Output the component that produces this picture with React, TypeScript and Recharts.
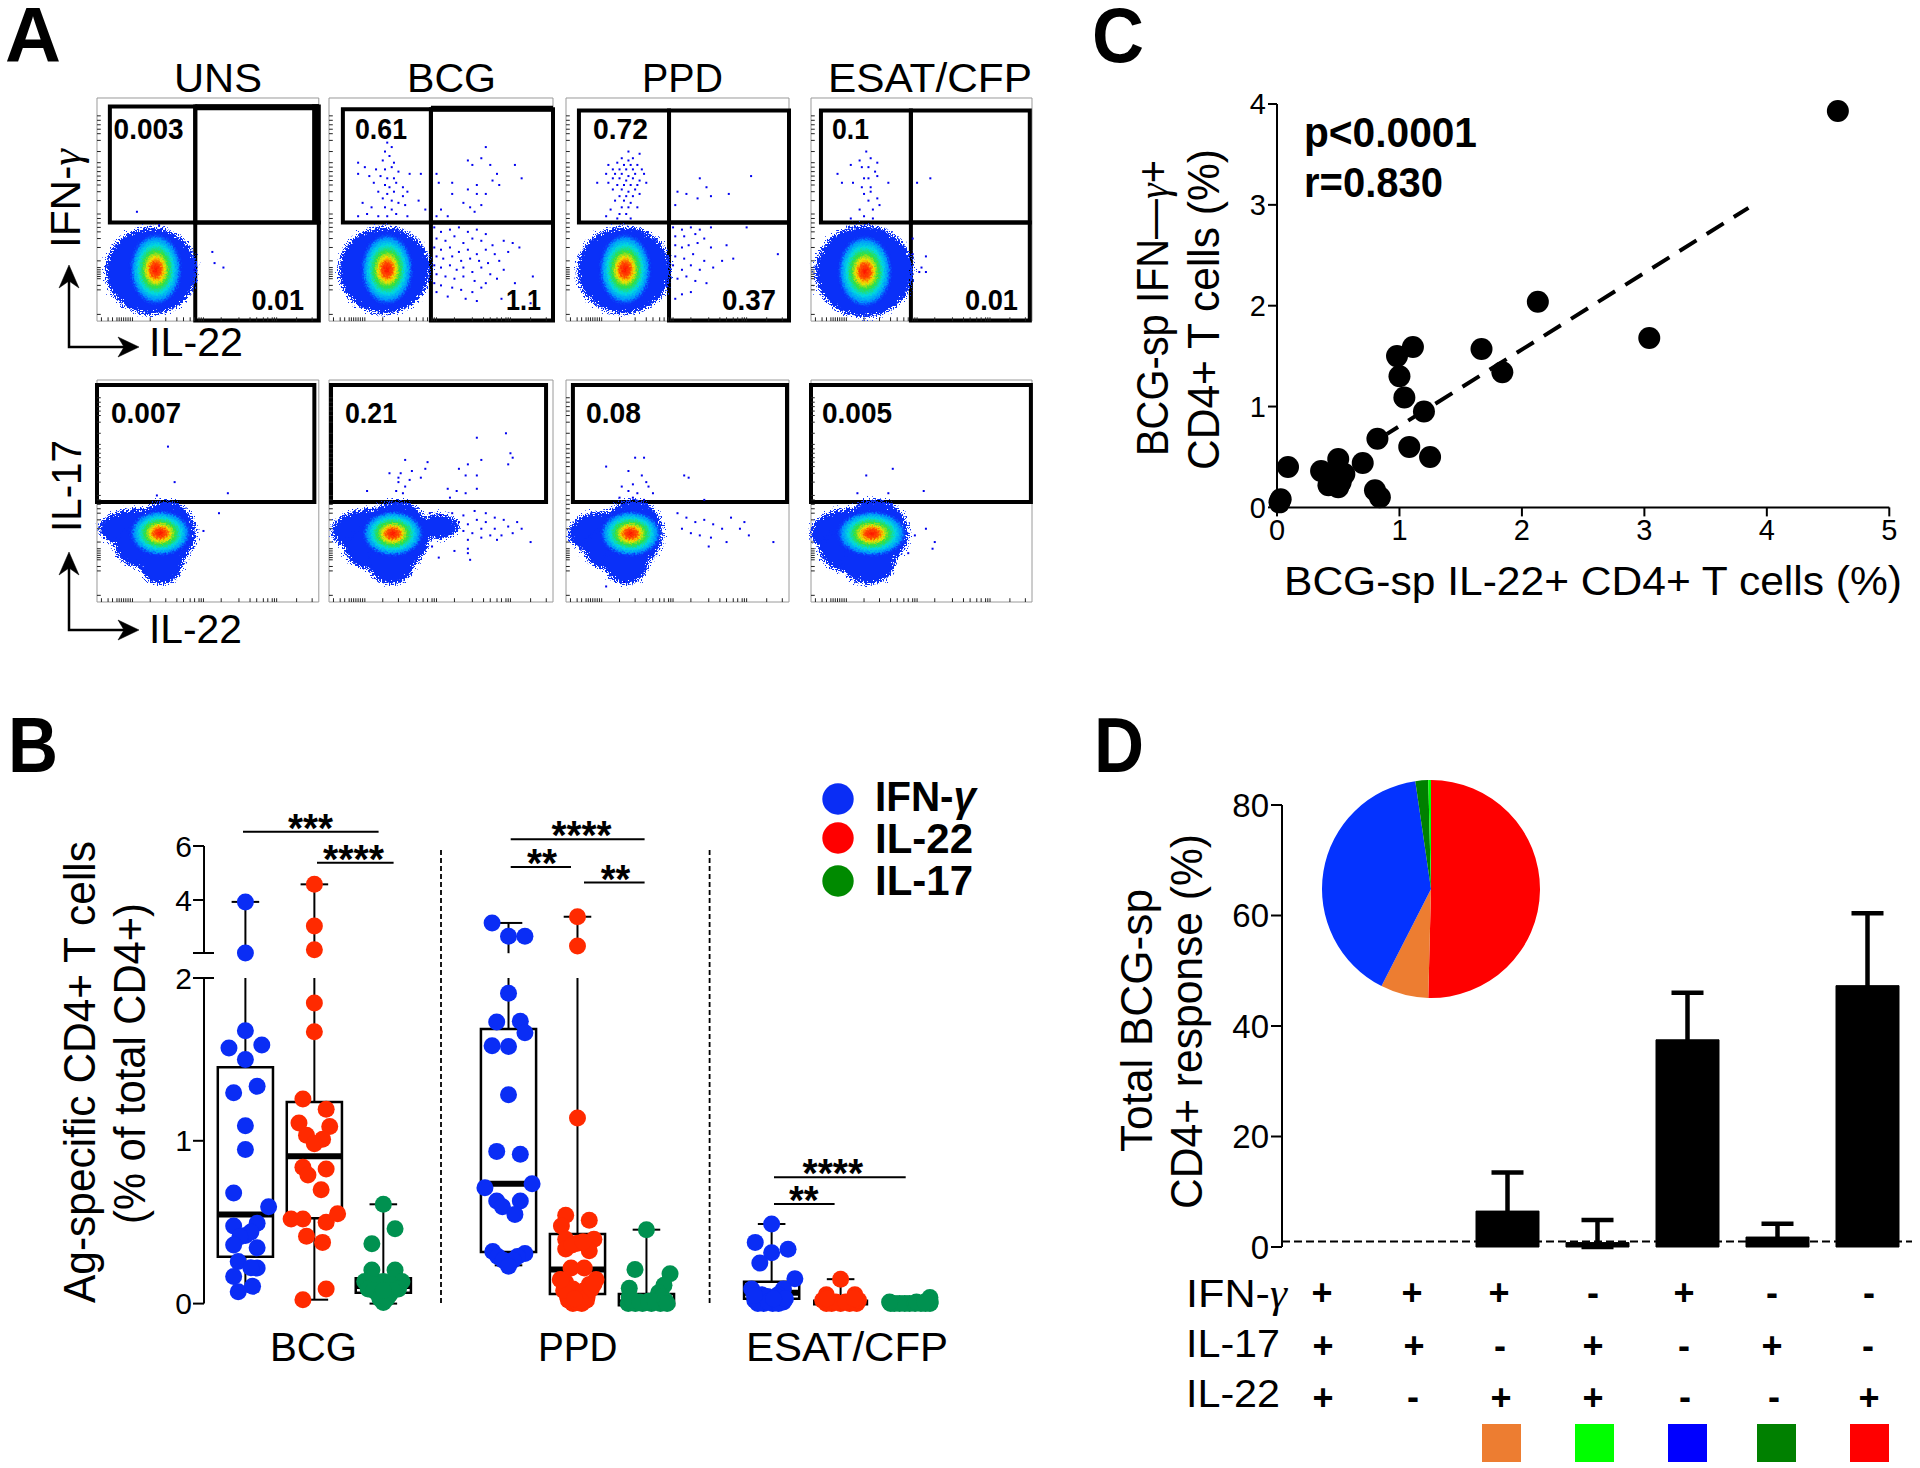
import React from 'react';
import { ScatterChart, Scatter, XAxis, YAxis, ReferenceArea, ReferenceLine, BarChart, Bar, ErrorBar, PieChart, Pie, Cell } from 'recharts';

const FONT = "'Liberation Sans', Arial, sans-serif";
type Pt = number[];

/* ---------- Panel A data (percent of each flow plot's axes) ---------- */
const flowTicksX = [2, 5, 7, 9, 10, 11, 12, 13, 14, 15, 16, 24, 31, 36, 39, 42, 44, 46, 47, 48, 56, 64, 69, 72, 75, 77, 79, 80, 81, 90, 97];
const flowTicksY = [3, 14, 16, 19, 20, 21, 22, 23, 24, 27, 33, 37, 40, 42, 44, 46, 48, 54, 58, 61, 63, 65, 67, 69, 71, 76, 81, 84, 86, 88, 90, 92];

const r1Frames = [[96.7, 221.8], [329, 224], [566, 223], [811, 221]];
const r2Frames = [[96.7, 221.8], [329, 224], [566, 223], [811, 221]];

const r1Gates = [
  [[5.8, 44.3, 44.2, 96.2], [44.3, 100, 44.2, 96.2], [44.3, 100, 0.3, 44.2]],
  [[6.2, 45.5, 44.2, 95], [45.5, 100, 44.2, 95], [45.5, 100, 0.3, 44.2]],
  [[5.8, 46.2, 44.2, 94.4], [46.2, 100, 44.2, 94.4], [46.2, 100, 0.3, 44.2]],
  [[4.5, 45.2, 44.2, 94.4], [45.2, 99, 44.2, 94.4], [45.2, 99, 0.3, 44.2]],
];
const r1Bands = [
  [[44.3, 100, 94.5, 97.2], [97, 100, 44.2, 97.2]],
  [[45.5, 100, 93.8, 96.5]],
  [],
  [],
];
const r2Gates = [[0, 98, 45, 97.7], [0.9, 96.9, 45, 97.7], [3.1, 99.1, 45, 97.7], [0, 99.5, 45, 97.7]];

const r1Outer = [
  [{ x: 24.5, y: 22.5, rx: 20.5, ry: 19.5 }],
  [{ x: 24.8, y: 22.8, rx: 20.5, ry: 19.5 }],
  [{ x: 26, y: 22.8, rx: 21, ry: 19.5 }],
  [{ x: 24, y: 22.3, rx: 22, ry: 20.5 }],
];
const r1Heat = [
  [{ x: 26.5, y: 23.2, rx: 12, ry: 16.5 }],
  [{ x: 25.9, y: 23.2, rx: 12, ry: 16.5 }],
  [{ x: 26.5, y: 23.2, rx: 12, ry: 16.5 }],
  [{ x: 24.4, y: 22.3, rx: 12.5, ry: 16.5 }],
];
const r2Outer = [
  [{ x: 20, y: 33, rx: 19, ry: 9 }, { x: 31, y: 31, rx: 13.5, ry: 14.5 }, { x: 23, y: 25, rx: 15, ry: 10 }, { x: 29, y: 18, rx: 10, ry: 10 }],
  [{ x: 20, y: 32, rx: 19, ry: 10 }, { x: 30, y: 30, rx: 15, ry: 15.5 }, { x: 22, y: 24, rx: 15, ry: 10 }, { x: 28, y: 18, rx: 10.5, ry: 10 }, { x: 49, y: 34, rx: 9, ry: 5.5 }],
  [{ x: 19, y: 31, rx: 18, ry: 10 }, { x: 30, y: 31, rx: 13.5, ry: 15 }, { x: 22, y: 24, rx: 14, ry: 10 }, { x: 27, y: 18, rx: 10, ry: 10 }],
  [{ x: 18, y: 31, rx: 18, ry: 11 }, { x: 29, y: 31, rx: 15, ry: 15 }, { x: 20, y: 23, rx: 16, ry: 10 }, { x: 26, y: 18, rx: 12, ry: 10 }],
];
const r2Heat = [
  [{ x: 28.5, y: 31, rx: 14, ry: 10.5 }],
  [{ x: 28.5, y: 30.8, rx: 14, ry: 10.5 }],
  [{ x: 29, y: 30.8, rx: 14, ry: 10.5 }],
  [{ x: 27.5, y: 30.8, rx: 16, ry: 10.5 }],
];

const r1Dots: Pt[][] = [
  [[18, 49], [28, 43], [52, 31], [57, 24], [53, 26], [44, 23]],
  [[26, 80], [28, 78], [25, 76], [27, 74], [13, 71], [16, 69], [24, 72], [29, 71], [21, 68], [25, 68], [28, 69], [31, 67], [13, 66], [18, 65], [23, 65], [26, 64], [29, 64], [36, 66], [41, 66], [20, 62], [25, 61], [27, 60], [30, 62], [33, 60], [22, 58], [26, 57], [29, 58], [33, 56], [35, 58], [24, 55], [28, 54], [31, 53], [15, 53], [19, 51], [25, 51], [28, 50], [34, 52], [40, 54], [43, 50], [13, 47], [17, 48], [22, 47], [26, 47], [30, 48], [35, 47],
    [70, 78], [62, 72], [64, 70], [68, 73], [48, 66], [72, 70], [83, 70], [86, 64], [75, 66], [49, 62], [55, 62], [66, 61], [73, 63], [76, 61], [55, 57], [62, 59], [66, 57], [70, 57], [60, 53], [63, 51], [65, 49], [68, 52], [50, 50], [48, 47], [53, 47],
    [47, 42], [50, 40], [54, 41], [58, 42], [62, 40], [66, 41], [70, 39], [48, 37], [52, 36], [56, 38], [60, 35], [64, 37], [68, 36], [73, 34], [78, 36], [82, 35], [47, 33], [50, 32], [54, 33], [58, 31], [62, 32], [66, 30], [70, 32], [74, 30], [80, 31], [85, 33], [48, 29], [51, 28], [55, 29], [59, 27], [63, 28], [67, 27], [71, 26], [76, 27], [47, 25], [50, 24], [54, 25], [57, 23], [60, 24], [64, 22], [68, 24], [72, 21], [78, 23], [48, 21], [52, 20], [56, 19], [60, 20], [65, 18], [70, 17], [75, 19], [83, 17], [91, 20], [47, 17], [50, 16], [55, 15], [59, 14], [64, 13], [68, 15], [48, 13], [53, 11], [61, 10], [66, 9], [77, 10], [90, 8]],
  [[28, 76], [33, 75], [25, 73], [28, 72], [30, 73], [19, 70], [23, 71], [26, 70], [29, 70], [32, 70], [21, 68], [24, 68], [27, 68], [30, 68], [34, 68], [18, 66], [22, 66], [25, 66], [28, 65], [31, 66], [35, 66], [21, 64], [24, 64], [27, 63], [30, 64], [33, 63], [14, 62], [19, 62], [23, 61], [26, 61], [29, 61], [32, 61], [36, 62], [21, 59], [25, 59], [28, 58], [31, 59], [24, 56], [27, 56], [30, 56], [33, 57], [22, 54], [26, 54], [29, 53], [25, 51], [28, 51], [32, 51], [20, 50], [24, 48], [27, 48], [23, 46], [29, 46], [18, 47],
    [60, 64], [83, 65], [50, 58], [54, 57], [59, 55], [65, 56], [63, 60], [73, 57], [49, 52],
    [48, 42], [52, 41], [56, 42], [60, 41], [65, 42], [81, 42], [49, 38], [53, 38], [58, 39], [62, 37], [49, 34], [52, 33], [55, 34], [59, 35], [65, 33], [72, 34], [95, 30], [49, 29], [53, 28], [57, 30], [62, 27], [70, 27], [75, 28], [48, 25], [52, 23], [56, 25], [60, 23], [66, 24], [50, 19], [54, 20], [58, 18], [63, 17], [52, 12], [56, 13], [49, 10]],
  [[25, 76], [22, 72], [27, 73], [30, 71], [18, 70], [23, 69], [26, 69], [29, 67], [12, 66], [24, 64], [26, 64], [30, 65], [14, 62], [19, 62], [23, 60], [27, 60], [35, 62], [24, 57], [27, 58], [30, 55], [26, 54], [28, 50], [31, 52], [18, 46], [22, 50], [24, 47], [28, 46],
    [48, 62], [54, 64], [46, 37], [52, 29], [50, 24], [52, 22], [49, 22], [46, 30]],
];
const r2Dots: Pt[][] = [
  [[32, 70], [35, 54], [27, 48], [59, 49], [48, 32], [55, 40]],
  [[79, 76], [66, 74], [81, 67], [82, 65], [80, 62], [68, 64], [34, 64], [44, 63], [32, 58], [37, 59], [43, 60], [62, 62], [27, 58], [31, 56], [36, 55], [41, 56], [58, 60], [61, 57], [66, 57], [31, 54], [34, 52], [30, 50], [33, 49], [17, 50], [53, 51], [57, 50], [61, 49], [66, 51], [54, 47],
    [45, 40], [50, 39], [55, 40], [60, 39], [65, 41], [70, 40], [74, 38], [78, 37], [84, 36], [58, 36], [62, 35], [66, 37], [70, 36], [74, 33], [80, 34], [86, 33], [60, 32], [64, 31], [68, 33], [72, 30], [77, 30], [82, 31], [90, 27], [62, 28], [68, 29], [75, 28], [46, 25], [56, 23], [62, 22], [63, 19], [49, 20], [62, 24]],
  [[31, 65], [35, 65], [18, 61], [28, 59], [34, 57], [36, 54], [53, 57], [55, 56], [30, 53], [25, 52], [28, 50], [32, 49], [39, 49], [30, 47], [35, 46], [37, 52], [24, 47], [62, 46],
    [50, 40], [54, 38], [58, 36], [62, 37], [66, 35], [70, 33], [74, 38], [52, 33], [56, 31], [60, 30], [65, 29], [72, 27], [78, 33], [82, 30], [80, 36], [93, 27], [64, 25], [18, 7], [26, 9]],
  [[37, 60], [25, 57], [51, 50], [21, 49], [35, 49], [52, 33], [56, 27], [55, 24], [44, 22], [47, 30]],
];

const labelsR1 = ['0.003', '0.01', '0.61', '1.1', '0.72', '0.37', '0.1', '0.01'];
const labelsR2 = ['0.007', '0.21', '0.08', '0.005'];
const stimNames = ['UNS', 'BCG', 'PPD', 'ESAT/CFP'];

/* ---------- Panel B data ---------- */
const boxCenters = [1, 2, 3, 4.815, 5.815, 6.815, 8.63, 9.63, 10.63];
const boxColors = ['#0a2df5', '#ff2a00', '#009150', '#0a2df5', '#ff2a00', '#009150', '#0a2df5', '#ff2a00', '#009150'];
const q1s = [0.287, 0.524, 0.066, 0.317, 0.059, -0.01, 0.03, 0.004, 0.004];
const q3s = [1.452, 1.239, 0.155, 1.687, 0.428, 0.059, 0.134, 0.006, 0.006];
const meds = [0.548, 0.905, 0.108, 0.736, 0.209, 0.007, 0.066, 0.007, 0.007];
const los = [0.075, 0.024, 0, 0.235, 0, 0, 0, 0, 0];
const his = [3.93, 4.58, 0.61, 3.15, 3.38, 0.454, 0.489, 0.15, 0.038];

const bcgIfn: Pt[] = [[0, 3.93], [0, 2.04], [0, 1.676], [0.238, 1.589], [-0.238, 1.57], [0, 1.5], [0.17, 1.335], [-0.17, 1.295], [0, 1.093], [0, 0.947], [-0.17, 0.679], [0.337, 0.595], [-0.17, 0.477], [0.17, 0.494], [0, 0.418], [0.08, 0.44], [-0.08, 0.41], [-0.17, 0.36], [0.17, 0.343], [-0.104, 0.259], [0.17, 0.219], [0.08, 0.22], [-0.17, 0.167], [0.104, 0.106], [-0.104, 0.073]];
const bcgIl22: Pt[] = [[0, 4.58], [0, 3.04], [0, 2.16], [0, 1.847], [0, 1.67], [-0.166, 1.257], [0.171, 1.194], [-0.223, 1.11], [0.223, 1.088], [-0.114, 1.034], [0.119, 1.01], [0, 0.982], [-0.166, 0.837], [0.171, 0.827], [-0.093, 0.79], [0.098, 0.7], [-0.337, 0.52], [-0.166, 0.52], [0.171, 0.5], [0.337, 0.552], [-0.114, 0.414], [0.119, 0.376], [0.171, 0.089], [-0.166, 0.024]];
const bcgIl17: Pt[] = [[0, 0.61], [0.17, 0.46], [-0.166, 0.367], [-0.166, 0.207], [0.17, 0.207], [-0.166, 0.16], [0.17, 0.16], [-0.27, 0.136], [0.27, 0.136], [0, 0.136], [-0.12, 0.117], [0.11, 0.117], [-0.22, 0.09], [0.22, 0.09], [-0.07, 0.054], [0.09, 0.054], [0, 0.007], [-0.14, 0.08], [0.14, 0.08], [-0.05, 0.03], [0.05, 0.03], [0, 0.08]];
const ppdIfn: Pt[] = [[-0.238, 3.15], [0, 2.66], [0.238, 2.66], [0, 1.906], [-0.171, 1.73], [0.171, 1.734], [0.238, 1.664], [-0.238, 1.584], [0, 1.579], [0, 1.283], [-0.171, 0.935], [0.171, 0.917], [-0.342, 0.712], [0.342, 0.736], [-0.171, 0.63], [0.171, 0.63], [-0.088, 0.595], [0.093, 0.548], [-0.228, 0.32], [0.238, 0.308], [-0.155, 0.289], [0.13, 0.289], [-0.078, 0.266], [0.067, 0.266], [0, 0.23]];
const ppdIl22: Pt[] = [[0, 3.38], [0, 2.3], [0, 1.14], [-0.171, 0.543], [0.171, 0.512], [-0.233, 0.477], [-0.171, 0.395], [0.238, 0.395], [0, 0.371], [0.171, 0.324], [-0.171, 0.336], [-0.093, 0.219], [0.098, 0.219], [-0.249, 0.148], [0.269, 0.148], [-0.171, 0.13], [0.171, 0.117], [-0.067, 0.09], [0.088, 0.078], [-0.145, 0.04], [0.14, 0.04], [-0.067, 0], [0.062, 0], [0, 0.007], [-0.13, 0.02], [0.13, 0.02], [-0.2, 0.08], [0.2, 0.09], [0.04, 0.02], [-0.04, 0.03], [-0.08, 0.36], [0.08, 0.38], [-0.24, 0.145], [0.24, 0.12]];
const ppdIl17: Pt[] = [[0, 0.454], [-0.166, 0.21], [0.342, 0.183], [0.254, 0.113], [-0.249, 0.094], [0.176, 0.066], [-0.249, 0.04], [0.228, 0.04], [-0.264, 0], [-0.161, 0], [-0.057, 0], [0.072, 0], [0.202, 0], [0, 0.007], [-0.2, 0.02], [-0.1, 0.01], [0.03, 0.015], [0.13, 0.01], [0.27, 0.02], [0.3, 0]];
const esatIfn: Pt[] = [[0, 0.489], [-0.238, 0.376], [0.238, 0.334], [0, 0.313], [-0.171, 0.249], [0.337, 0.153], [-0.29, 0.09], [0.171, 0.09], [-0.14, 0.054], [0.093, 0.054], [-0.062, 0.044], [0.067, 0.044], [-0.244, 0.02], [0.171, 0.01], [-0.114, 0], [0.015, 0], [-0.2, 0], [-0.05, 0.01], [0.1, 0], [0.2, 0.03], [-0.25, 0.05], [0.03, 0.03]];
const esatIl22: Pt[] = [[0, 0.15], [-0.207, 0.054], [0.207, 0.054], [-0.13, 0], [0, 0], [0.13, 0], [-0.207, 0], [0.233, 0], [-0.26, 0.02], [0.26, 0.02], [-0.07, 0.01], [0.07, 0.01], [-0.2, 0.03], [0.2, 0.03]];
const esatIl17: Pt[] = [[0.295, 0.038], [-0.275, 0], [-0.145, 0], [0, 0], [0.165, 0], [0.295, 0], [-0.22, 0], [-0.07, 0], [0.08, 0], [0.23, 0], [-0.29, 0.01], [0.1, 0.01], [0.3, 0.01], [0.22, 0.01]];
const pointSets = [bcgIfn, bcgIl22, bcgIl17, ppdIfn, ppdIl22, ppdIl17, esatIfn, esatIl22, esatIl17];

const groupNames = ['BCG', 'PPD', 'ESAT/CFP'];
const legendNames = ['IL-22', 'IL-17'];
const sigLines = [
  [243, 378.6, 831.7], [317, 393.6, 862.7], [510.7, 644.6, 839.3], [510.7, 571, 866.9], [584, 644.6, 882.6], [774, 905.7, 1177.2], [774, 834.6, 1204],
];
const sigStars = ['***', '****', '****', '**', '**', '****', '**'];
const sigStarX = [288, 323, 551.4, 527, 600.7, 802.5, 789];
const sigStarW = [45, 61, 60, 30, 29.5, 60.5, 29.6];

/* ---------- Panel C data ---------- */
const il22Pct = [0.03, 0.02, 0.09, 0.36, 0.42, 0.5, 0.46, 0.5, 0.52, 0.55, 0.7, 0.8, 0.84, 0.82, 0.98, 1.0, 1.04, 1.11, 1.08, 1.2, 1.25, 1.67, 1.84, 2.13, 3.04, 4.58];
const ifnPct = [0.08, 0.05, 0.4, 0.36, 0.22, 0.48, 0.3, 0.2, 0.25, 0.33, 0.44, 0.17, 0.1, 0.68, 1.5, 1.3, 1.09, 1.59, 0.6, 0.95, 0.5, 1.57, 1.34, 2.04, 1.68, 3.93];
const fitX = [0.4, 3.85];
const fitY = [0.35, 2.97];

/* ---------- Panel D data ---------- */
const comboIds = ['IFN+17+22+', 'IFN+17+', 'IFN+22+', '17+22+', 'IFN+', '17+', '22+'];
const comboMean = [0, 0, 6.5, 0.8, 37.5, 1.8, 47.3];
const comboTop = [0, 0, 13.5, 4.9, 46, 4.2, 60.4];
const rowIfn = ['+', '+', '+', '-', '+', '-', '-'];
const rowIl17 = ['+', '+', '-', '+', '-', '+', '-'];
const rowIl22 = ['+', '-', '+', '+', '-', '-', '+'];
const swatches = ['#ed7d31', '#00ff00', '#0000ff', '#008000', '#ff0000'];
const pieShares = [50.4, 7.1, 40.2, 1.9, 0.4];
const pieColors = ['#ff0000', '#ed7d31', '#0433ff', '#008000', '#00ff00'];

/* ---------- helpers ---------- */
const toPts = (a: Pt[]) => a.map(([x, y]) => ({ x, y }));
const PX = 2.22;
const StrayDot = (p: any) => <rect x={p.cx - 1} y={p.cy - 1} width={2} height={2} fill="#0000f0" />;
const OuterBlob = (p: any) => <ellipse cx={p.cx} cy={p.cy} rx={p.payload.rx * PX} ry={p.payload.ry * PX} fill="#0a30f8" filter="url(#rough)" />;
const HeatBlob = (p: any) => <ellipse cx={p.cx} cy={p.cy} rx={p.payload.rx * PX} ry={p.payload.ry * PX} fill="url(#heat)" filter="url(#rough2)" />;

const T = ({ x, y, w, s = 40, b, rot, a, fill = '#000', children }: any) => (
  <text x={x} y={y} fontSize={s} fontWeight={b ? 700 : 400} fill={fill} textAnchor={a || 'start'}
    textLength={w} lengthAdjust={w ? 'spacingAndGlyphs' : undefined}
    transform={rot ? `rotate(-90 ${x} ${y})` : undefined}>{children}</text>
);
const Gamma = () => <tspan fontFamily="'Liberation Serif', serif" fontStyle="italic">γ</tspan>;

const at = (left: number, top: number, width: number, height: number): React.CSSProperties => ({ position: 'absolute', left, top, width, height });

const Flow = ({ frame, bottom, h, outer, heat, dots, gates, bands }: any) => {
  const m = 12;
  const [l, w] = frame;
  return (
    <div style={at(l - m, bottom - h - m, w + 2 * m, h + 2 * m)}>
      <ScatterChart width={w + 2 * m} height={h + 2 * m} margin={{ left: m, right: m, top: m, bottom: m }}>
        <XAxis type="number" dataKey="x" domain={[0, 100]} height={0} tick={false} tickLine={false} axisLine={false} />
        <YAxis type="number" dataKey="y" domain={[0, 100]} width={0} tick={false} tickLine={false} axisLine={false} />
        <ReferenceArea x1={0} x2={100} y1={0} y2={100} fill="none" stroke="#9a9a9a" strokeWidth={1} ifOverflow="visible" />
        <Scatter data={outer} shape={OuterBlob} isAnimationActive={false} />
        <Scatter data={heat} shape={HeatBlob} isAnimationActive={false} />
        <Scatter data={toPts(dots)} shape={StrayDot} isAnimationActive={false} />
        {flowTicksX.map((t) => (
          <ReferenceLine key={`tx${t}`} segment={[{ x: t, y: 0 }, { x: t, y: 1.7 }]} stroke="#222" strokeWidth={1} ifOverflow="visible" />
        ))}
        {flowTicksY.map((t) => (
          <ReferenceLine key={`ty${t}`} segment={[{ x: 0, y: t }, { x: 1.7, y: t }]} stroke="#222" strokeWidth={1} ifOverflow="visible" />
        ))}
        {gates.map((g: number[], i: number) => (
          <ReferenceArea key={i} x1={g[0]} x2={g[1]} y1={g[2]} y2={g[3]} fill="none" stroke="#000" strokeWidth={4} ifOverflow="visible" />
        ))}
        {bands.map((g: number[], i: number) => (
          <ReferenceArea key={'b' + i} x1={g[0]} x2={g[1]} y1={g[2]} y2={g[3]} fill="#000" fillOpacity={1} stroke="none" ifOverflow="visible" />
        ))}
      </ScatterChart>
    </div>
  );
};

const CAP = 0.2;
const HALF = 0.4;
const boxRange = boxCenters.map((_, i) => i);
const line = (key: string, x1: number, y1: number, x2: number, y2: number, sw = 2) => (
  <ReferenceLine key={key} segment={[{ x: x1, y: y1 }, { x: x2, y: y2 }]} stroke="#000" strokeWidth={sw} ifOverflow="visible" />
);

const xDomB = [0.4, 11.245];
const dotShape = (fill: string) => (p: any) => <circle cx={p.cx} cy={p.cy} r={8.5} fill={fill} />;

const BPanel = () => {
  const W = 748, ml = 50, mr = 20;
  return (
    <>
      {/* upper broken-axis segment */}
      <div style={at(204 - ml, 845.8 - 20, W + ml + mr, 107.2 + 40)}>
        <ScatterChart width={W + ml + mr} height={107.2 + 40} margin={{ left: 0, right: mr, top: 20, bottom: 20 }}>
          <XAxis hide type="number" dataKey="x" domain={xDomB} height={0} />
          <YAxis type="number" dataKey="y" domain={[2.03, 6]} ticks={[4, 6]} interval={0} width={ml} tickSize={11} tickMargin={1} axisLine={{ stroke: '#000', strokeWidth: 2 }} tickLine={{ stroke: '#000', strokeWidth: 2 }} tick={{ fontSize: 30, fill: '#000', fontFamily: FONT }} />
          {boxRange.map((i) => (
            <Scatter key={i} data={pointSets[i].filter((p) => p[1] > 2).map(([d, y]) => ({ x: boxCenters[i] + d, y }))} shape={dotShape(boxColors[i])} isAnimationActive={false} />
          ))}
          {boxRange.filter((i) => his[i] > 2).flatMap((i) => [
            line(`w${i}`, boxCenters[i], 2.03, boxCenters[i], his[i]),
            line(`c${i}`, boxCenters[i] - CAP, his[i], boxCenters[i] + CAP, his[i]),
          ])}
        </ScatterChart>
      </div>
      {/* lower broken-axis segment */}
      <div style={at(204 - ml, 977.9 - 20, W + ml + mr, 325.6 + 50)}>
        <ScatterChart width={W + ml + mr} height={325.6 + 50} margin={{ left: 0, right: mr, top: 20, bottom: 30 }}>
          <XAxis type="number" dataKey="x" domain={xDomB} height={0} tick={false} tickLine={false} axisLine={{ stroke: '#000', strokeWidth: 2 }} />
          <YAxis type="number" dataKey="y" domain={[0, 2]} ticks={[0, 1, 2]} interval={0} width={ml} tickSize={11} tickMargin={1} axisLine={{ stroke: '#000', strokeWidth: 2 }} tickLine={{ stroke: '#000', strokeWidth: 2 }} tick={{ fontSize: 30, fill: '#000', fontFamily: FONT }} />
          {boxRange.map((i) => (
            <Scatter key={i} data={pointSets[i].filter((p) => p[1] <= 2).map(([d, y]) => ({ x: boxCenters[i] + d, y }))} shape={dotShape(boxColors[i])} isAnimationActive={false} />
          ))}
          {boxRange.flatMap((i) => {
            const c = boxCenters[i];
            const els = [
              line(`wh${i}`, c, q3s[i], c, Math.min(his[i], 2)),
              line(`wl${i}`, c, los[i], c, q1s[i]),
              line(`cl${i}`, c - CAP, los[i], c + CAP, los[i]),
              line(`m${i}`, c - HALF, meds[i], c + HALF, meds[i], 6),
            ];
            if (his[i] <= 2) els.push(line(`ch${i}`, c - CAP, his[i], c + CAP, his[i]));
            return els;
          })}
          {boxRange.slice(0, 7).map((i) => (
            <ReferenceArea key={`b${i}`} x1={boxCenters[i] - HALF} x2={boxCenters[i] + HALF} y1={q1s[i]} y2={q3s[i]} fill="none" stroke="#000" strokeWidth={2.5} ifOverflow="visible" />
          ))}
        </ScatterChart>
      </div>
    </>
  );
};

const CPanel = () => {
  const ml = 60, mb = 50, mt = 20, mr = 25, w = 612.3, h = 403.4;
  const pts = il22Pct.map((x, i) => ({ x, y: ifnPct[i] }));
  return (
    <div style={at(1276.7 - ml, 103.6 - mt, w + ml + mr, h + mt + mb)}>
      <ScatterChart width={w + ml + mr} height={h + mt + mb} margin={{ left: 0, right: mr, top: mt, bottom: 0 }}>
        <XAxis type="number" dataKey="x" domain={[0, 5]} ticks={[0, 1, 2, 3, 4, 5]} interval={0} height={mb} tickSize={9} tickMargin={3} axisLine={{ stroke: '#000', strokeWidth: 2 }} tickLine={{ stroke: '#000', strokeWidth: 2 }} tick={{ fontSize: 29, fill: '#000', fontFamily: FONT }} />
        <YAxis type="number" dataKey="y" domain={[0, 4]} ticks={[0, 1, 2, 3, 4]} interval={0} width={ml} tickSize={9} tickMargin={2} axisLine={{ stroke: '#000', strokeWidth: 2 }} tickLine={{ stroke: '#000', strokeWidth: 2 }} tick={{ fontSize: 29, fill: '#000', fontFamily: FONT }} />
        <Scatter data={pts} shape={(p: any) => <circle cx={p.cx} cy={p.cy} r={11} fill="#000" />} isAnimationActive={false} />
        <ReferenceLine segment={[{ x: 0.85, y: fitY[0] + (0.85 - fitX[0]) * 0.7594 }, { x: fitX[1], y: fitY[1] }]} stroke="#000" strokeWidth={4} strokeDasharray="20 12" ifOverflow="visible" />
        <ReferenceLine segment={[{ x: fitX[0], y: fitY[0] }, { x: 0.9, y: fitY[0] + 0.5 * 0.7594 }]} stroke="#fff" strokeWidth={1.5} strokeDasharray="3 4" ifOverflow="visible" />
      </ScatterChart>
    </div>
  );
};

const DPanel = () => {
  const ml = 60, mt = 20, mb = 30, w = 630, h = 442;
  const data = comboIds.map((id, i) => ({ id, mean: comboMean[i], err: [Math.min(comboMean[i], 1), comboTop[i] - comboMean[i]] }));
  return (
    <div style={at(1281.5 - ml, 805 - mt, w + ml + 8, h + mt + mb)}>
      <BarChart width={w + ml + 8} height={h + mt + mb} data={data} margin={{ left: 0, right: 8, top: mt, bottom: mb }} barCategoryGap={13}>
        <XAxis dataKey="id" height={0} tick={false} tickLine={false} axisLine={{ stroke: '#000', strokeWidth: 2 }} />
        <YAxis type="number" domain={[0, 80]} ticks={[0, 20, 40, 60, 80]} interval={0} width={ml} tickSize={11} tickMargin={2} axisLine={{ stroke: '#000', strokeWidth: 2 }} tickLine={{ stroke: '#000', strokeWidth: 2 }} tick={{ fontSize: 33, fill: '#000', fontFamily: FONT }} />
        <Bar dataKey="mean" fill="#000" stroke="#000" strokeWidth={1} barSize={63} isAnimationActive={false}>
          <ErrorBar dataKey="err" width={16} stroke="#000" strokeWidth={4.5} direction="y" isAnimationActive={false} />
        </Bar>
        <ReferenceLine y={1} stroke="#000" strokeWidth={2} strokeDasharray="8 4" />
      </BarChart>
    </div>
  );
};

const DPie = () => (
  <div style={at(1431 - 120, 889 - 120, 240, 240)}>
    <PieChart width={240} height={240} margin={{ left: 0, right: 0, top: 0, bottom: 0 }}>
      <Pie data={pieShares.map((value, i) => ({ value, name: String(i) }))} dataKey="value" cx={120} cy={120} innerRadius={0} outerRadius={109} startAngle={90} endAngle={-270} stroke="none" isAnimationActive={false}>
        {pieShares.map((_, i) => <Cell key={i} fill={pieColors[i]} />)}
      </Pie>
    </PieChart>
  </div>
);

const Arrow = ({ x, y0, y1, x1 }: any) => (
  <g stroke="#000" strokeWidth={2.5} fill="#000">
    <path d={`M${x} ${y1} L${x} ${y0} L${x1} ${y0}`} fill="none" />
    <path d={`M${x} ${y1 - 6} L${x - 10} ${y1 + 17} L${x} ${y1 + 10} L${x + 10} ${y1 + 17} Z`} strokeWidth={0.5} />
    <path d={`M${x1 + 6} ${y0} L${x1 - 15} ${y0 - 10} L${x1 - 9} ${y0} L${x1 - 15} ${y0 + 10} Z`} strokeWidth={0.5} />
  </g>
);

const rowCols = [
  [1322, 1412, 1499, 1593, 1684, 1772, 1869],
  [1323, 1414, 1500, 1593, 1684, 1772, 1868],
  [1323, 1413, 1501, 1593, 1685, 1774, 1869],
];
const rowYPlus = [1305, 1358, 1410];
const rowYMinus = [1304.5, 1358, 1409];
const swatchX = [1482, 1575, 1668, 1757, 1850];

const numX1 = [113.6, 251.5, 355, 506, 593, 722, 832, 965];
const numW1 = [70, 52.5, 52, 35, 55, 54, 37, 53];
const numY1 = [139, 310, 139, 310, 139, 310, 139, 310];
const numX2 = [111, 345, 586, 822];
const numW2 = [70, 52, 55, 70];
const stimX = [174, 407, 642, 828];
const stimW = [88, 89, 81, 204];
const groupX = [270, 538, 746];
const groupW = [87, 79.5, 202];

const Overlay = () => (
  <svg width={1920} height={1468} style={{ position: 'absolute', left: 0, top: 0, pointerEvents: 'none', fontFamily: FONT }}>
    <T x={5} y={62} s={78} b w={56}>A</T>
    <T x={8} y={772} s={78} b w={50}>B</T>
    <T x={1092} y={62} s={78} b w={52}>C</T>
    <T x={1094} y={772} s={78} b w={50}>D</T>

    {/* panel A */}
    {stimNames.map((n, i) => <T key={n} x={stimX[i]} y={92} s={41} w={stimW[i]}>{n}</T>)}
    {labelsR1.map((n, i) => <T key={i} x={numX1[i]} y={numY1[i]} s={30} b w={numW1[i]}>{n}</T>)}
    {labelsR2.map((n, i) => <T key={i} x={numX2[i]} y={423} s={30} b w={numW2[i]}>{n}</T>)}
    <T x={80} y={248} s={42} rot w={99}>IFN-<Gamma /></T>
    <T x={149} y={356} s={41} w={94}>IL-22</T>
    <T x={81} y={532} s={42} rot w={92}>IL-17</T>
    <T x={149} y={643} s={41} w={93}>IL-22</T>
    <Arrow x={69} y0={347} y1={271} x1={133} />
    <Arrow x={69} y0={630} y1={558} x1={133} />

    {/* panel B */}
    <line x1={193} y1={953} x2={214} y2={953} stroke="#000" strokeWidth={2} />
    <line x1={204} y1={953} x2={204} y2={899} stroke="#000" strokeWidth={2} />
    <line x1={204} y1={978} x2={214} y2={978} stroke="#000" strokeWidth={2} />
    <line x1={441} y1={850} x2={441} y2={1303} stroke="#000" strokeWidth={1.8} strokeDasharray="5 3" />
    <line x1={709.6} y1={850} x2={709.6} y2={1303} stroke="#000" strokeWidth={1.8} strokeDasharray="5 3" />
    {sigLines.map((l, i) => <line key={i} x1={l[0]} x2={l[1]} y1={l[2]} y2={l[2]} stroke="#000" strokeWidth={2} />)}
    {sigStars.map((s, i) => <T key={i} x={sigStarX[i]} y={sigLines[i][2] + 10} s={40} b w={sigStarW[i]}>{s}</T>)}
    <T x={94.6} y={1303} s={44} rot w={462}>Ag-specific CD4+ T cells</T>
    <T x={144.6} y={1224} s={44} rot w={321}>(% of total CD4+)</T>
    {groupNames.map((n, i) => <T key={n} x={groupX[i]} y={1361} s={40} w={groupW[i]}>{n}</T>)}
    <circle cx={838} cy={799} r={15.7} fill="#0a2df5" />
    <circle cx={838} cy={838} r={15.7} fill="#ff0000" />
    <circle cx={838} cy={881} r={15.7} fill="#008a00" />
    <T x={875} y={810.6} s={42} b w={101}>IFN-<tspan fontStyle="italic">γ</tspan></T>
    <T x={875} y={852.7} s={42} b w={98}>{legendNames[0]}</T>
    <T x={875} y={894.8} s={42} b w={98}>{legendNames[1]}</T>

    {/* panel C */}
    <T x={1304} y={146.6} s={43} b w={173}>p&lt;0.0001</T>
    <T x={1304} y={197} s={43} b w={139}>r=0.830</T>
    <T x={1284} y={595} s={40} w={618}>BCG-sp IL-22+ CD4+ T cells (%)</T>
    <T x={1168} y={456} s={44} rot w={296}>BCG-sp IFN—<Gamma />+</T>
    <T x={1219} y={470} s={44} rot w={321}>CD4+ T cells (%)</T>

    {/* panel D */}
    <T x={1152} y={1152} s={44} rot w={263}>Total BCG-sp</T>
    <T x={1202} y={1209} s={44} rot w={375}>CD4+ response (%)</T>
    <T x={1186} y={1307} s={39} w={101}>IFN-<Gamma /></T>
    <T x={1186} y={1357} s={39} w={94}>IL-17</T>
    <T x={1186} y={1407} s={39} w={94}>IL-22</T>
    {[rowIfn, rowIl17, rowIl22].map((row, r) => row.map((c, i) => (
      <T key={`${r}-${i}`} x={rowCols[r][i]} y={c === '+' ? rowYPlus[r] : rowYMinus[r]} s={36} b a="middle">{c}</T>
    )))}
    {swatches.map((c, i) => <rect key={c} x={swatchX[i]} y={1424} width={39} height={38} fill={c} />)}
  </svg>
);

const Defs = () => (
  <svg width={0} height={0} style={{ position: 'absolute' }}>
    <defs>
      <radialGradient id="heat">
        <stop offset="0%" stopColor="#ff1000" />
        <stop offset="20%" stopColor="#ff5000" />
        <stop offset="33%" stopColor="#f0e000" />
        <stop offset="48%" stopColor="#30e040" />
        <stop offset="66%" stopColor="#00d8e0" />
        <stop offset="84%" stopColor="#0090ff" />
        <stop offset="100%" stopColor="#0a30f8" stopOpacity="0" />
      </radialGradient>
      <filter id="rough" x="-25%" y="-25%" width="150%" height="150%" colorInterpolationFilters="sRGB">
        <feTurbulence type="fractalNoise" baseFrequency="0.7" numOctaves="2" seed="3" result="n" />
        <feDisplacementMap in="SourceGraphic" in2="n" scale="16" xChannelSelector="R" yChannelSelector="G" />
      </filter>
      <filter id="rough2" x="-20%" y="-20%" width="140%" height="140%" colorInterpolationFilters="sRGB">
        <feTurbulence type="fractalNoise" baseFrequency="0.6" numOctaves="1" seed="8" result="n" />
        <feDisplacementMap in="SourceGraphic" in2="n" scale="6" xChannelSelector="R" yChannelSelector="G" />
      </filter>
    </defs>
  </svg>
);

export default function App() {
  return (
    <div style={{ position: 'absolute', left: 0, top: 0, width: 1920, height: 1468, background: '#fff', overflow: 'hidden', fontFamily: FONT }}>
      <Defs />
      {r1Frames.map((f, i) => (
        <Flow key={i} frame={f} bottom={320.7} h={223.1} outer={r1Outer[i]} heat={r1Heat[i]} dots={r1Dots[i]} gates={r1Gates[i]} bands={r1Bands[i]} />
      ))}
      {r2Frames.map((f, i) => (
        <Flow key={i} frame={f} bottom={602} h={222} outer={r2Outer[i]} heat={r2Heat[i]} dots={r2Dots[i]} gates={[r2Gates[i]]} bands={[]} />
      ))}
      <BPanel />
      <CPanel />
      <DPanel />
      <DPie />
      <Overlay />
    </div>
  );
}
